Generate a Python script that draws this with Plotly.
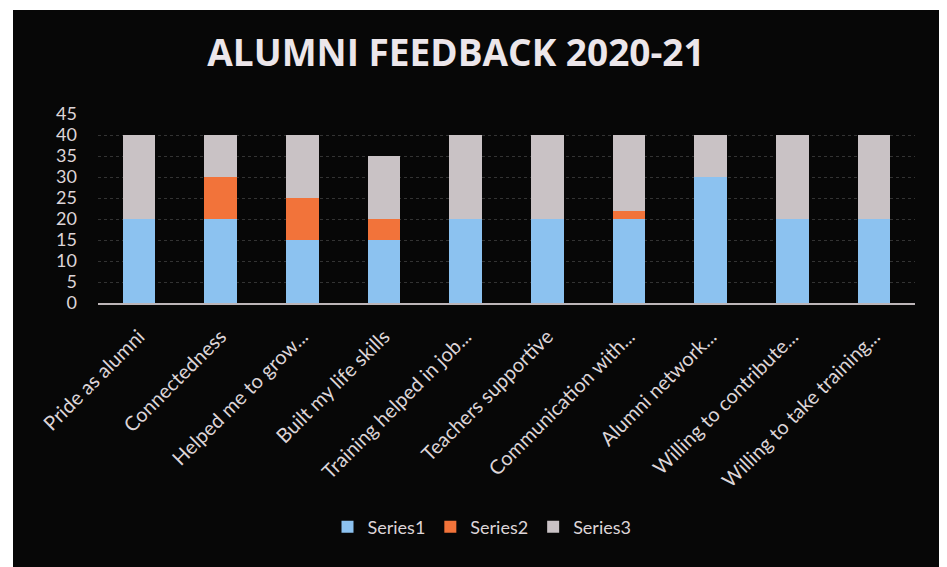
import plotly.graph_objects as go

categories = ["Pride as alumni", "Connectedness", "Helped me to grow...", "Built my life skills",
              "Training helped in job...", "Teachers supportive", "Communication with...",
              "Alumni network...", "Willing to contribute...", "Willing to take training..."]
series1 = [20, 20, 15, 15, 20, 20, 20, 30, 20, 20]
series2 = [0, 10, 10, 5, 0, 0, 2, 0, 0, 0]
series3 = [20, 10, 15, 15, 20, 20, 18, 10, 20, 20]
y_ticks = [0, 5, 10, 15, 20, 25, 30, 35, 40, 45]

OFF = 8  # page body margin
W, H = 947 - OFF, 567 - OFF
# reference pixel positions of the plot area
X0, X1, Y0, Y1 = 98, 915, 114, 303
L, R, T, B = X0 - OFF, 947 - X1, Y0 - OFF, 567 - Y1
pw, ph = X1 - X0, Y1 - Y0

def px_x(x):
    return (x - X0) / pw

def px_y(y):
    return (Y1 - y) / ph

fig = go.Figure()
fig.add_bar(x=categories, y=series1, name="Series1", marker_color="#8cc2f0", marker_line_width=0)
fig.add_bar(x=categories, y=series2, name="Series2", marker_color="#f2733a", marker_line_width=0)
fig.add_bar(x=categories, y=series3, name="Series3", marker_color="#c9c2c5", marker_line_width=0)

txt = "#ddd5d8"
fig.update_layout(
    width=W, height=H,
    barmode="stack", bargap=0.6,
    paper_bgcolor="white", plot_bgcolor="rgba(0,0,0,0)",
    margin=dict(l=L, r=R, t=T, b=B, autoexpand=False),
    font=dict(family="Lato", color=txt),
    title=dict(text="<b>ALUMNI FEEDBACK 2020-21</b>", x=(456 - OFF) / W, xanchor="center",
               y=1 - (53 - OFF) / H, yanchor="middle",
               font=dict(size=37, color="#ece6ea", family="Open Sans")),
    showlegend=True,
    legend=dict(orientation="h", x=px_x(482), xanchor="center", y=px_y(527), yanchor="middle",
                font=dict(size=18, color=txt), bgcolor="rgba(0,0,0,0)", itemwidth=30,
                traceorder="normal"),
    shapes=[dict(type="rect", xref="paper", yref="paper", x0=px_x(13), x1=px_x(942),
                 y0=px_y(575), y1=px_y(10), fillcolor="#070707", line_width=0, layer="below")],
)
fig.update_xaxes(showline=True, linecolor="#bdb5b8", linewidth=2, tickangle=-45,
                 tickfont=dict(size=20, color=txt), showgrid=False, ticks="", ticklabelstandoff=12)
fig.update_yaxes(range=[0, 45], tickvals=y_ticks, showgrid=True, gridcolor="#333333", griddash="dot",
                 gridwidth=1, tickfont=dict(size=18, color=txt), zeroline=False, ticklabelstandoff=20)

fig.write_html("out.html")
